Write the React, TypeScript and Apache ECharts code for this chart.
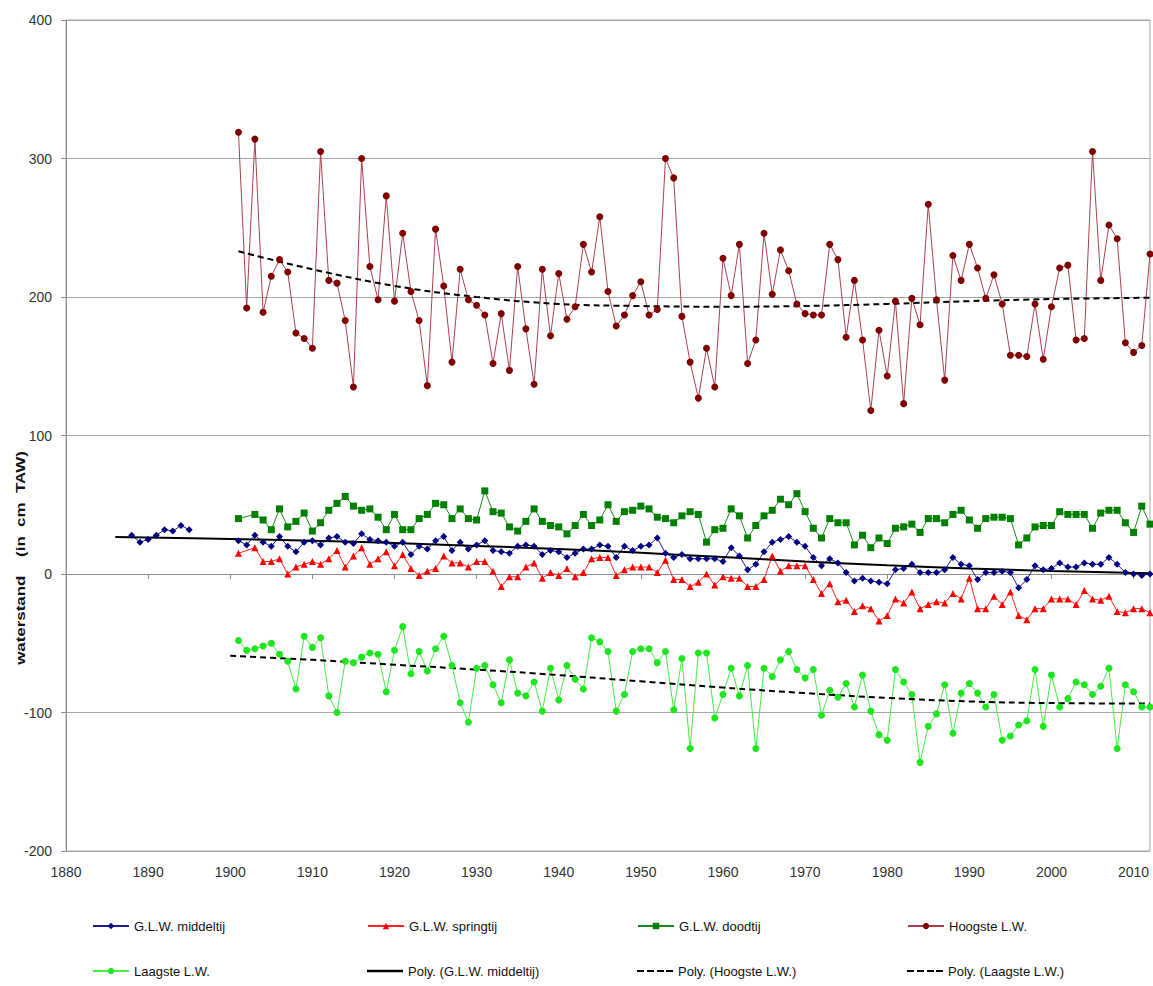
import React, { useEffect, useRef } from "react";
import * as echarts from "echarts";

// Annual low-water levels (cm TAW)
const FIRST_YEAR = 1901;
const EARLY_FIRST_YEAR = 1888;

const MIDDELTIJ_EARLY = [28, 23, 25, 28, 32, 31, 35, 32]; // 1888–1895

const MIDDELTIJ = [
  24, 21, 28, 23, 20, 27, 20, 16, 23, 24,
  21, 26, 27, 23, 22, 29, 25, 24, 23, 20,
  23, 14, 20, 18, 24, 27, 17, 23, 18, 21,
  24, 17, 16, 15, 20, 21, 20, 14, 17, 16,
  12, 15, 18, 18, 21, 20, 12, 20, 17, 20,
  21, 26, 15, 12, 14, 11, 11, 11, 11, 9,
  19, 13, 3, 7, 16, 23, 25, 27, 23, 20,
  12, 6, 11, 8, 1, -5, -3, -5, -6, -7,
  3, 4, 7, 1, 1, 1, 3, 12, 7, 6,
  -4, 1, 1, 2, 1, -10, -4, 6, 3, 4,
  8, 5, 5, 8, 7, 7, 12, 7, 1, 0,
  -1, 0,
];

const SPRINGTIJ = [
  15, null, 19, 9, 9, 11, 0, 5, 7, 9,
  7, 11, 17, 5, 13, 19, 7, 11, 16, 6,
  14, 4, -1, 2, 4, 13, 8, 8, 5, 9,
  9, 2, -9, -2, -2, 5, 8, -3, 1, -1,
  4, -2, 1, 11, 12, 12, -1, 3, 5, 5,
  5, 1, 10, -4, -4, -9, -6, 0, -8, -2,
  -3, -3, -9, -9, -4, 13, 2, 6, 6, 6,
  -4, -14, -7, -20, -19, -27, -23, -25, -34, -30,
  -18, -21, -13, -25, -22, -20, -21, -14, -18, -3,
  -25, -25, -16, -22, -13, -30, -33, -25, -25, -18,
  -18, -18, -22, -12, -18, -19, -16, -27, -28, -25,
  -25, -28,
];

const DOODTIJ = [
  40, null, 43, 39, 32, 47, 34, 38, 44, 31,
  37, 46, 51, 56, 49, 46, 47, 41, 32, 43,
  32, 32, 40, 43, 51, 50, 40, 47, 40, 39,
  60, 45, 44, 34, 31, 38, 47, 38, 35, 34,
  29, 35, 43, 35, 39, 50, 38, 45, 46, 49,
  47, 41, 40, 37, 42, 45, 43, 23, 32, 33,
  47, 42, 26, 35, 42, 46, 54, 50, 58, 45,
  33, 26, 40, 37, 37, 21, 28, 19, 26, 22,
  33, 34, 36, 30, 40, 40, 37, 43, 46, 39,
  33, 40, 41, 41, 40, 21, 26, 34, 35, 35,
  45, 43, 43, 43, 33, 44, 46, 46, 37, 30,
  49, 36,
];

const HOOGSTE = [
  319, 192, 314, 189, 215, 227, 218, 174, 170, 163,
  305, 212, 210, 183, 135, 300, 222, 198, 273, 197,
  246, 204, 183, 136, 249, 208, 153, 220, 198, 194,
  187, 152, 188, 147, 222, 177, 137, 220, 172, 217,
  184, 193, 238, 218, 258, 204, 179, 187, 201, 211,
  187, 191, 300, 286, 186, 153, 127, 163, 135, 228,
  201, 238, 152, 169, 246, 202, 234, 219, 195, 188,
  187, 187, 238, 227, 171, 212, 169, 118, 176, 143,
  197, 123, 199, 180, 267, 198, 140, 230, 212, 238,
  221, 199, 216, 195, 158, 158, 157, 195, 155, 193,
  221, 223, 169, 170, 305, 212, 252, 242, 167, 160,
  165, 231,
];

const LAAGSTE = [
  -48, -55, -54, -52, -50, -58, -63, -83, -45, -53,
  -46, -88, -100, -63, -64, -60, -57, -58, -85, -55,
  -38, -72, -56, -70, -54, -45, -66, -93, -107, -68,
  -66, -80, -93, -62, -86, -88, -78, -99, -68, -91,
  -66, -76, -83, -46, -49, -56, -99, -87, -56, -54,
  -54, -64, -56, -98, -61, -126, -57, -57, -104, -87,
  -68, -88, -66, -126, -68, -74, -62, -56, -69, -75,
  -69, -102, -84, -89, -79, -96, -73, -99, -116, -120,
  -69, -78, -87, -136, -110, -101, -80, -115, -86, -79,
  -86, -96, -87, -120, -117, -109, -106, -69, -110, -73,
  -96, -90, -78, -80, -87, -81, -68, -126, -80, -85,
  -96, -96,
];

// Polynomial trend lines
const TREND_MIDDEL_YEARS = [1886, 1900, 1910, 1920, 1930, 1940, 1950, 1960, 1970, 1980, 1990, 2000, 2012];
const TREND_MIDDEL = [26.8, 25.3, 24, 22.3, 20.3, 18, 15.3, 12.2, 9, 6.3, 4, 2.2, 0.5];

const TREND_HOOGSTE_YEARS = [1901, 1910, 1920, 1930, 1940, 1950, 1960, 1970, 1980, 1990, 2000, 2012];
const TREND_HOOGSTE = [233, 220, 208, 200, 195, 193.5, 193, 193.5, 195, 197, 198.5, 199.5];

const TREND_LAAGSTE_YEARS = [1900, 1910, 1920, 1930, 1940, 1950, 1960, 1970, 1980, 1990, 2000, 2012];
const TREND_LAAGSTE = [-59, -62, -65.5, -69, -73, -77.5, -82, -86, -89.5, -92, -93.2, -93.5];

const X_TICKS = [1880, 1890, 1900, 1910, 1920, 1930, 1940, 1950, 1960, 1970, 1980, 1990, 2000, 2010];

const FONT = '"Liberation Sans", Arial, sans-serif';

// Legend entries: series name, column, row, icon kind
const LEGEND_ITEMS: [string, number, number, string][] = [
  ["G.L.W. middeltij", 0, 0, "marker"],
  ["G.L.W. springtij", 1, 0, "marker"],
  ["G.L.W. doodtij", 2, 0, "marker"],
  ["Hoogste L.W.", 3, 0, "marker"],
  ["Laagste L.W.", 0, 1, "marker"],
  ["Poly. (G.L.W. middeltij)", 1, 1, "solid"],
  ["Poly. (Hoogste L.W.)", 2, 1, "dashed"],
  ["Poly. (Laagste L.W.)", 3, 1, "dashed"],
];
const LEGEND_COLUMNS = [92, 367, 637, 907];
const LEGEND_ROWS = [926, 971];

const pairs = (start: number, values: (number | null)[]) =>
  values.map((v, i) => [start + i, v]);

const zipPairs = (xs: number[], ys: number[]) => xs.map((x, i) => [x, ys[i]]);

const DASHED_ICON = "path://M0,0h7v2h-7z M10,0h7v2h-7z M20,0h7v2h-7z M29,0h7v2h-7z";
const SOLID_ICON = "path://M0,0h36v2.5h-36z";

export default function App() {
  const ref = useRef<HTMLDivElement>(null);

  useEffect(() => {
    if (!ref.current) return;
    const chart = echarts.init(ref.current, undefined, { renderer: "svg" });

    const middelData = [
      ...pairs(EARLY_FIRST_YEAR, MIDDELTIJ_EARLY),
      [EARLY_FIRST_YEAR + MIDDELTIJ_EARLY.length, null],
      ...pairs(FIRST_YEAR, MIDDELTIJ),
    ];

    const markerSeries = (
      name: string,
      data: any[],
      color: string,
      lineColor: string,
      symbol: string,
      symbolSize: number,
      connectNulls = false
    ) => ({
      name,
      type: "line",
      data,
      symbol,
      symbolSize,
      showSymbol: true,
      connectNulls,
      itemStyle: { color },
      lineStyle: { color: lineColor, width: 1 },
      emphasis: { disabled: true },
    });

    const trendSeries = (name: string, data: any[], dashed: boolean) => ({
      name,
      type: "line",
      data,
      symbol: "none",
      smooth: 0.4,
      itemStyle: { color: "#000" },
      lineStyle: { color: "#000", width: 2, type: dashed ? [6, 4] : "solid" },
      emphasis: { disabled: true },
      z: 3,
    });

    const legends = LEGEND_ITEMS.map(([name, col, row, kind]) => {
      const iconHeight = kind === "marker" ? 8 : kind === "solid" ? 2.5 : 2;
      const entry: any = { name };
      if (kind === "solid") entry.icon = SOLID_ICON;
      if (kind === "dashed") entry.icon = DASHED_ICON;
      return {
        orient: "horizontal",
        left: LEGEND_COLUMNS[col],
        top: LEGEND_ROWS[row] - 8,
        padding: 0,
        itemWidth: 36,
        itemHeight: iconHeight,
        symbolKeepAspect: false,
        selectedMode: false,
        textStyle: { fontSize: 13, fontFamily: FONT, color: "#111", lineHeight: 16 },
        data: [entry],
      };
    });

    chart.setOption({
      animation: false,
      backgroundColor: "#ffffff",
      grid: {
        left: 66,
        top: 20,
        right: 3,
        bottom: 135,
        show: true,
        borderColor: "#a6a6a6",
        borderWidth: 1,
      },
      xAxis: {
        type: "value",
        min: 1880,
        max: 2012,
        interval: 10,
        axisLine: { show: true, lineStyle: { color: "#8c8c8c", width: 1 } },
        axisTick: {
          show: true,
          length: 5,
          customValues: X_TICKS,
          lineStyle: { color: "#8c8c8c" },
        },
        axisLabel: {
          customValues: X_TICKS,
          formatter: (v: number) => String(v),
          fontSize: 14,
          fontFamily: FONT,
          color: "#333",
          margin: 14,
        },
        splitLine: { show: false },
      },
      yAxis: {
        type: "value",
        min: -200,
        max: 400,
        interval: 100,
        axisLine: { show: true, lineStyle: { color: "#8c8c8c", width: 1 } },
        axisTick: { show: true, length: 5, lineStyle: { color: "#8c8c8c" } },
        axisLabel: {
          formatter: (v: number) => String(v),
          fontSize: 14,
          fontFamily: FONT,
          color: "#333",
          margin: 14,
        },
        splitLine: { show: true, lineStyle: { color: "#a6a6a6", width: 1 } },
      },
      legend: legends,
      graphic: [
        {
          type: "text",
          x: 20,
          y: 558,
          rotation: Math.PI / 2,
          scaleX: 1.3,
          style: {
            text: "waterstand    (in  cm  TAW)",
            font: `bold 13px ${FONT}`,
            fill: "#111",
            align: "center",
            verticalAlign: "middle",
          },
        },
      ],
      series: [
        markerSeries("G.L.W. middeltij", middelData, "#000080", "#1c1c8c", "diamond", 7),
        markerSeries("G.L.W. springtij", pairs(FIRST_YEAR, SPRINGTIJ), "#ff0000", "#ff2020", "triangle", 7, true),
        markerSeries("G.L.W. doodtij", pairs(FIRST_YEAR, DOODTIJ), "#008000", "#1a8a1a", "rect", 7, true),
        markerSeries("Hoogste L.W.", pairs(FIRST_YEAR, HOOGSTE), "#800000", "#a8404e", "circle", 7),
        markerSeries("Laagste L.W.", pairs(FIRST_YEAR, LAAGSTE), "#1ee61e", "#44ee44", "circle", 7),
        trendSeries("Poly. (G.L.W. middeltij)", zipPairs(TREND_MIDDEL_YEARS, TREND_MIDDEL), false),
        trendSeries("Poly. (Hoogste L.W.)", zipPairs(TREND_HOOGSTE_YEARS, TREND_HOOGSTE), true),
        trendSeries("Poly. (Laagste L.W.)", zipPairs(TREND_LAAGSTE_YEARS, TREND_LAAGSTE), true),
      ],
    });

    return () => chart.dispose();
  }, []);

  return (
    <div
      ref={ref}
      style={{
        position: "absolute",
        left: 0,
        top: 0,
        width: 1153,
        height: 986,
        background: "#ffffff",
      }}
    />
  );
}
